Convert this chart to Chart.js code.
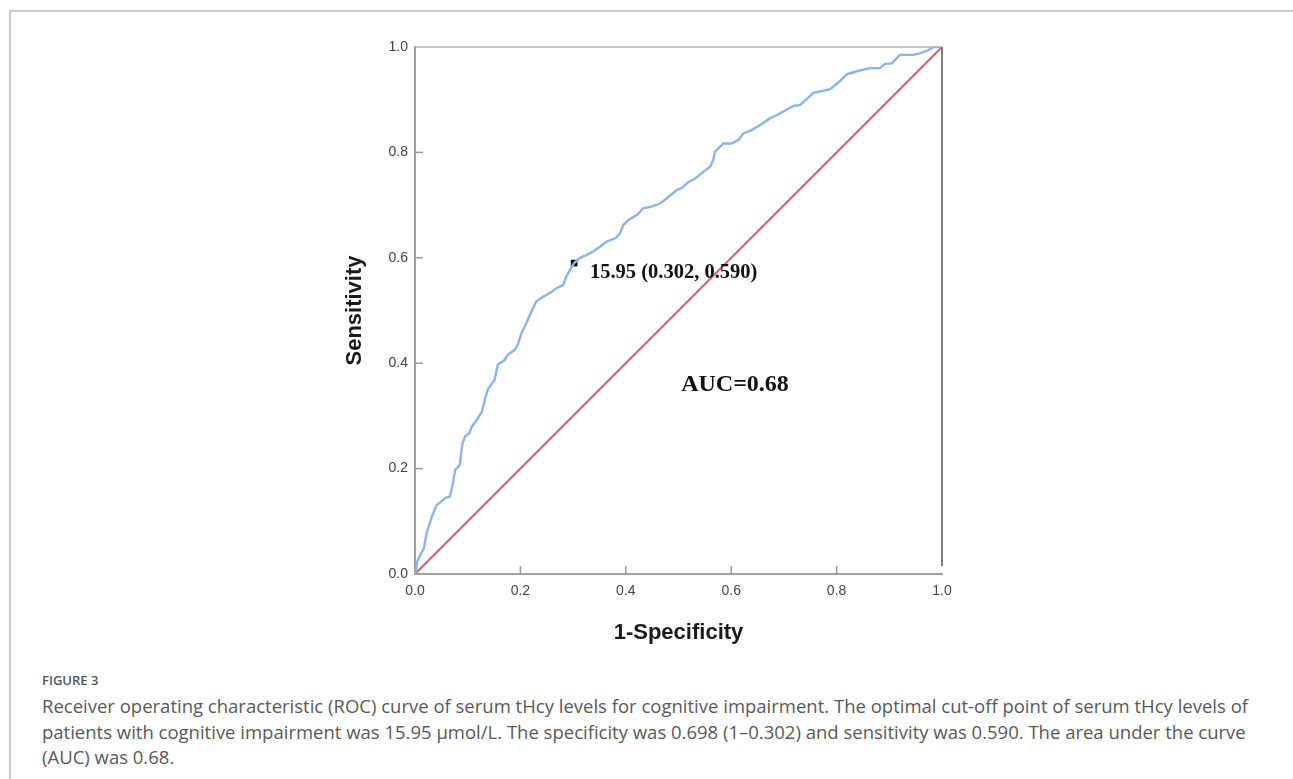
<!DOCTYPE html>
<html>
<head>
<meta charset="utf-8">
<script src="https://cdn.jsdelivr.net/npm/chart.js@4/dist/chart.umd.min.js"></script>
<style>
  html, body { margin: 0; padding: 0; background: #fff; }
  body { width: 1293px; height: 779px; position: relative; overflow: hidden; }
  .frame { position: absolute; left: 9px; top: 10px; width: 1400px; height: 900px;
           border-left: 2px solid #cccccc; border-top: 2px solid #cccccc; }
  #wrap { position: absolute; left: 0; top: 0; width: 1293px; height: 650px; }
  .fig { position: absolute; left: 42px; top: 671px; color: #555; font-size: 13px; font-weight: 600;
         line-height: 18px; font-family: "Open Sans", "Noto Sans", sans-serif; }
  .txt { position: absolute; left: 42px; top: 693px; color: #595959; font-size: 18.5px; line-height: 25.5px;
         font-family: "Open Sans", "Noto Sans", sans-serif; white-space: nowrap; }
</style>
</head>
<body>
<div class="frame"></div>
<div id="wrap"><canvas id="roc"></canvas></div>
<div class="fig">FIGURE 3</div>
<div class="txt">Receiver operating characteristic (ROC) curve of serum tHcy levels for cognitive impairment. The optimal cut-off point of serum tHcy levels of<br>patients with cognitive impairment was 15.95 µmol/L. The specificity was 0.698 (1–0.302) and sensitivity was 0.590. The area under the curve<br>(AUC) was 0.68.</div>
<script>
// ROC 곡선: 1-특이도(x) 대 민감도(y), 그림에서 읽은 값
const FPR = [0, 0.002, 0.004, 0.010, 0.017, 0.022, 0.032, 0.041, 0.047, 0.057, 0.066, 0.072, 0.076, 0.085,
  0.090, 0.095, 0.103, 0.108, 0.117, 0.127, 0.133, 0.139, 0.151, 0.157, 0.170, 0.176, 0.189, 0.195, 0.202,
  0.211, 0.221, 0.230, 0.243, 0.256, 0.268, 0.281, 0.287, 0.294, 0.302, 0.313, 0.325, 0.338, 0.351, 0.364,
  0.380, 0.389, 0.395, 0.405, 0.421, 0.433, 0.449, 0.465, 0.478, 0.497, 0.506, 0.519, 0.531, 0.547, 0.560,
  0.566, 0.569, 0.585, 0.601, 0.614, 0.623, 0.636, 0.655, 0.674, 0.687, 0.718, 0.731, 0.756, 0.788, 0.806,
  0.819, 0.838, 0.863, 0.882, 0.892, 0.905, 0.920, 0.946, 0.958, 0.974, 0.984, 1.0];
const TPR = [0, 0.006, 0.023, 0.036, 0.049, 0.078, 0.109, 0.131, 0.135, 0.144, 0.147, 0.172, 0.197, 0.207,
  0.248, 0.261, 0.267, 0.280, 0.292, 0.308, 0.333, 0.352, 0.368, 0.397, 0.406, 0.416, 0.425, 0.435, 0.457,
  0.476, 0.498, 0.517, 0.526, 0.533, 0.542, 0.548, 0.564, 0.577, 0.590, 0.600, 0.605, 0.612, 0.621, 0.631,
  0.637, 0.646, 0.662, 0.672, 0.681, 0.694, 0.697, 0.703, 0.713, 0.729, 0.732, 0.744, 0.750, 0.763, 0.773,
  0.786, 0.801, 0.817, 0.817, 0.824, 0.836, 0.841, 0.852, 0.865, 0.871, 0.888, 0.890, 0.913, 0.920, 0.935,
  0.948, 0.954, 0.960, 0.960, 0.968, 0.969, 0.985, 0.985, 0.988, 0.994, 1.0, 1.0];
const REF_LINE = [[0, 0], [1, 1]];
const CUTOFF = { x: 0.302, y: 0.590, label: "15.95 (0.302, 0.590)" };
const AUC_TEXT = "AUC=0.68";
const TICKS = [0, 0.2, 0.4, 0.6, 0.8, 1.0];

const BLUE = "#8ab4ea";
const RED = "#e5566f";
const AXIS = "#a0a0a0";

// 눈금 안쪽 + 위/오른쪽 테두리 + 주석 텍스트
const decor = {
  id: "decor",
  afterDatasetsDraw(chart) {
    const { ctx, chartArea: a, scales: { x, y } } = chart;
    ctx.save();
    ctx.strokeStyle = "#999";
    ctx.lineWidth = 1.5;
    for (const v of TICKS.slice(1, -1)) {
      const px = x.getPixelForValue(v), py = y.getPixelForValue(v);
      ctx.beginPath(); ctx.moveTo(px, a.bottom); ctx.lineTo(px, a.bottom - 8); ctx.stroke();
      ctx.beginPath(); ctx.moveTo(a.left, py); ctx.lineTo(a.left + 8, py); ctx.stroke();
    }
    ctx.strokeStyle = "#b0b0b0"; ctx.lineWidth = 1.5;
    ctx.beginPath(); ctx.moveTo(a.left, a.top); ctx.lineTo(a.right, a.top); ctx.stroke();
    ctx.strokeStyle = "#555"; ctx.lineWidth = 1.5;
    ctx.beginPath(); ctx.moveTo(a.right, a.top); ctx.lineTo(a.right, a.bottom - 8); ctx.stroke();

    ctx.fillStyle = "#111";
    ctx.textBaseline = "middle";
    ctx.textAlign = "left";
    ctx.font = 'bold 20.5px "Liberation Serif", "Times New Roman", serif';
    ctx.fillText(CUTOFF.label, x.getPixelForValue(0.332), y.getPixelForValue(0.571));
    ctx.font = 'bold 24px "Liberation Serif", "Times New Roman", serif';
    ctx.fillText(AUC_TEXT, x.getPixelForValue(0.505), y.getPixelForValue(0.359));
    ctx.restore();
  },
};

const tickFont = { family: '"Liberation Sans", Arial, sans-serif', size: 14 };
const titleFont = { family: '"Liberation Sans", Arial, sans-serif', size: 22, weight: "bold" };

new Chart(document.getElementById("roc"), {
  type: "scatter",
  data: {
    datasets: [
      {
        type: "line",
        data: FPR.map((v, i) => ({ x: v, y: TPR[i] })),
        borderColor: BLUE, borderWidth: 2.4, pointRadius: 0, tension: 0, fill: false,
      },
      {
        type: "line",
        data: REF_LINE.map(([a, b]) => ({ x: a, y: b })),
        borderColor: RED, borderWidth: 2, pointRadius: 0, fill: false,
      },
      {
        data: [{ x: CUTOFF.x, y: CUTOFF.y }],
        pointStyle: "rect", pointRadius: 4, backgroundColor: "#000", borderColor: "#000", borderWidth: 1,
      },
    ],
  },
  options: {
    responsive: true,
    maintainAspectRatio: false,
    animation: false,
    layout: { padding: { left: 340, right: 351, top: 47, bottom: 4 } },
    plugins: { legend: { display: false }, tooltip: { enabled: false } },
    scales: {
      x: {
        type: "linear", min: 0, max: 1,
        afterBuildTicks: (s) => { s.ticks = TICKS.map((v) => ({ value: v })); },
        afterFit: (s) => { s.height = 72; },
        grid: { display: false, drawTicks: false },
        border: { color: AXIS, width: 2 },
        ticks: { padding: 9, color: "#444", font: tickFont, callback: (v) => v.toFixed(1) },
        title: { display: true, text: "1-Specificity", color: "#1a1a1a", font: titleFont, padding: { top: 0, bottom: 0 } },
      },
      y: {
        type: "linear", min: 0, max: 1,
        afterBuildTicks: (s) => { s.ticks = TICKS.map((v) => ({ value: v })); },
        afterFit: (s) => { s.width = 75; },
        grid: { display: false, drawTicks: false },
        border: { color: AXIS, width: 2 },
        ticks: { padding: 7, color: "#444", font: tickFont, callback: (v) => v.toFixed(1) },
        title: { display: true, text: "Sensitivity", color: "#1a1a1a", font: titleFont, padding: { top: 2, bottom: 0 } },
      },
    },
  },
  plugins: [decor],
});
</script>
</body>
</html>
